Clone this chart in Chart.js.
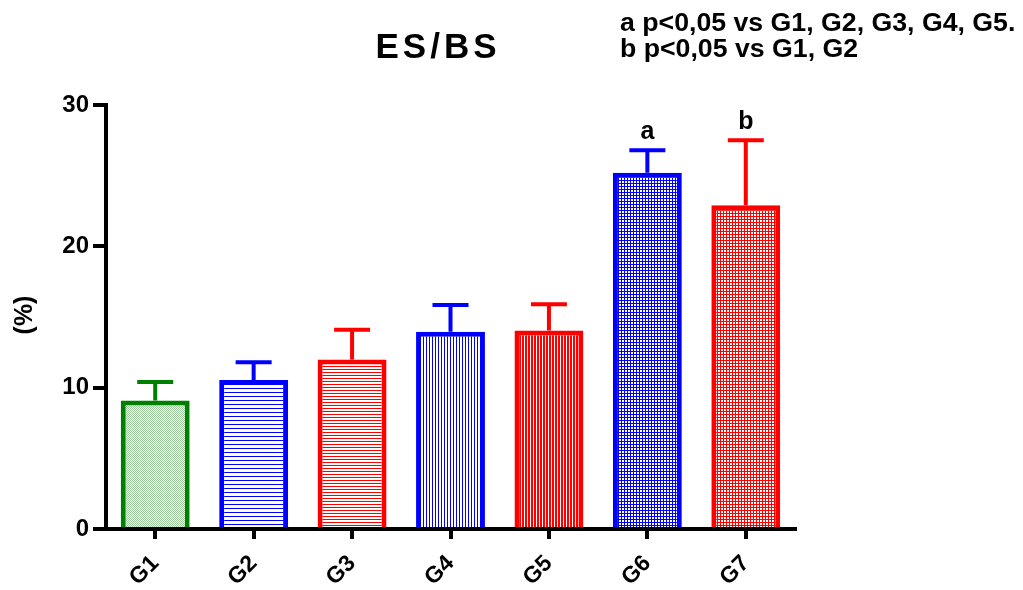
<!DOCTYPE html>
<html lang="en">
<head>
  <meta charset="UTF-8" />
  <title>ES/BS</title>
  <script src="https://cdn.jsdelivr.net/npm/chart.js"></script>
  <style>
    body { margin: 0; background: #fff; }
    canvas { display: block; }
  </style>
</head>
<body>
  <canvas id="esbsChart" width="1023" height="590"></canvas>

  <script>
    // data
    const groups = ["G1", "G2", "G3", "G4", "G5", "G6", "G7"];
    const means = [9.1, 10.55, 12.0, 13.95, 14.05, 25.2, 22.9];
    const sds = [1.3, 1.25, 2.1, 1.9, 1.85, 1.6, 4.6];
    const sigLetters = ["", "", "", "", "", "a", "b"];
    const yTicks = [0, 10, 20, 30];
    const notes = ["a p<0,05 vs G1, G2, G3, G4, G5.", "b p<0,05 vs G1, G2"];

    const GREEN = "#008000", BLUE = "#0000ff", RED = "#ff0000";
    const FONT = "'Liberation Sans', Arial, sans-serif";

    // little tile patterns for the bar fills
    function tile(w, h, paint) {
      const c = document.createElement("canvas");
      c.width = w; c.height = h;
      const g = c.getContext("2d");
      g.fillStyle = "#fff";
      g.fillRect(0, 0, w, h);
      paint(g);
      return c.getContext("2d").createPattern(c, "repeat");
    }
    const stipple = (col) => tile(2, 2, g => {
      g.fillStyle = col; g.fillRect(0, 0, 1, 1); g.fillRect(1, 1, 1, 1);
    });
    const hLines = (col, p) => tile(1, p, g => { g.fillStyle = col; g.fillRect(0, 0, 1, 1); });
    const vLines = (col, p, lw) => tile(p, 1, g => { g.fillStyle = col; g.fillRect(0, 0, lw, 1); });
    const checker = (col) => tile(3, 3, g => {
      g.fillStyle = col; g.fillRect(0, 0, 3, 3);
      g.fillStyle = "#fff"; g.fillRect(1, 1, 2, 2);
    });

    const borderColors = [GREEN, BLUE, RED, BLUE, RED, BLUE, RED];
    const fills = [
      stipple("rgba(0,128,0,0.4)"),
      hLines(BLUE, 4),
      hLines(RED, 3),
      vLines(BLUE, 3, 1),
      vLines(RED, 3, 2),
      checker(BLUE),
      checker(RED)
    ];

    const errorBars = {
      id: "errorBars",
      afterDatasetsDraw(chart) {
        const ctx = chart.ctx;
        const y = chart.scales.y;
        const meta = chart.getDatasetMeta(0);
        ctx.save();
        meta.data.forEach((bar, i) => {
          const top = y.getPixelForValue(means[i] + sds[i]);
          ctx.strokeStyle = borderColors[i];
          ctx.lineWidth = 4;
          ctx.beginPath();
          ctx.moveTo(bar.x, bar.y);
          ctx.lineTo(bar.x, top);
          ctx.moveTo(bar.x - 18, top);
          ctx.lineTo(bar.x + 18, top);
          ctx.stroke();
          if (sigLetters[i]) {
            ctx.fillStyle = "#000";
            ctx.font = "bold 25px " + FONT;
            ctx.textAlign = "center";
            ctx.textBaseline = "alphabetic";
            ctx.fillText(sigLetters[i], bar.x, top - 11);
          }
        });
        ctx.restore();
      },
      afterDraw(chart) {
        const ctx = chart.ctx;
        ctx.save();
        ctx.fillStyle = "#000";
        // title
        ctx.font = "bold 35px " + FONT;
        ctx.letterSpacing = "4px";
        ctx.textAlign = "center";
        ctx.textBaseline = "alphabetic";
        ctx.fillText("ES/BS", 438, 58);
        ctx.letterSpacing = "0px";
        // notes top right
        ctx.font = "bold 26.7px " + FONT;
        ctx.textAlign = "left";
        ctx.fillText(notes[0], 620, 31);
        ctx.fillText(notes[1], 620, 57);
        // y axis title
        ctx.translate(25, 315);
        ctx.rotate(-Math.PI / 2);
        ctx.font = "bold 25px " + FONT;
        ctx.textAlign = "center";
        ctx.textBaseline = "middle";
        ctx.fillText("(%)", 0, 0);
        ctx.restore();
      }
    };

    new Chart(document.getElementById("esbsChart"), {
      type: "bar",
      data: {
        labels: groups,
        datasets: [{
          data: means,
          backgroundColor: fills,
          borderColor: borderColors,
          borderWidth: 5,
          barPercentage: 0.7,
          categoryPercentage: 1
        }]
      },
      options: {
        responsive: false,
        animation: false,
        layout: { padding: { top: 105, right: 228, left: 0, bottom: 0 } },
        plugins: {
          legend: { display: false },
          tooltip: { enabled: false }
        },
        scales: {
          x: {
            offset: true,
            afterFit: s => { s.height = 61; },
            border: { display: true, color: "#000", width: 4, z: 1 },
            grid: {
              offset: false, drawOnChartArea: false, drawTicks: true,
              tickLength: 10, color: "#000", lineWidth: 4
            },
            ticks: {
              color: "#000",
              font: { family: FONT, size: 23, weight: "bold" },
              minRotation: 45, maxRotation: 45,
              padding: 11
            }
          },
          y: {
            min: 0, max: 30,
            afterFit: s => { s.width = 106; },
            afterBuildTicks: s => { s.ticks = yTicks.map(v => ({ value: v })); },
            border: { display: true, color: "#000", width: 4 },
            grid: {
              drawOnChartArea: false, drawTicks: true,
              tickLength: 13, color: "#000", lineWidth: 4
            },
            ticks: {
              color: "#000",
              font: { family: FONT, size: 24, weight: "bold" },
              padding: 4
            }
          }
        }
      },
      plugins: [errorBars]
    });
  </script>
</body>
</html>
